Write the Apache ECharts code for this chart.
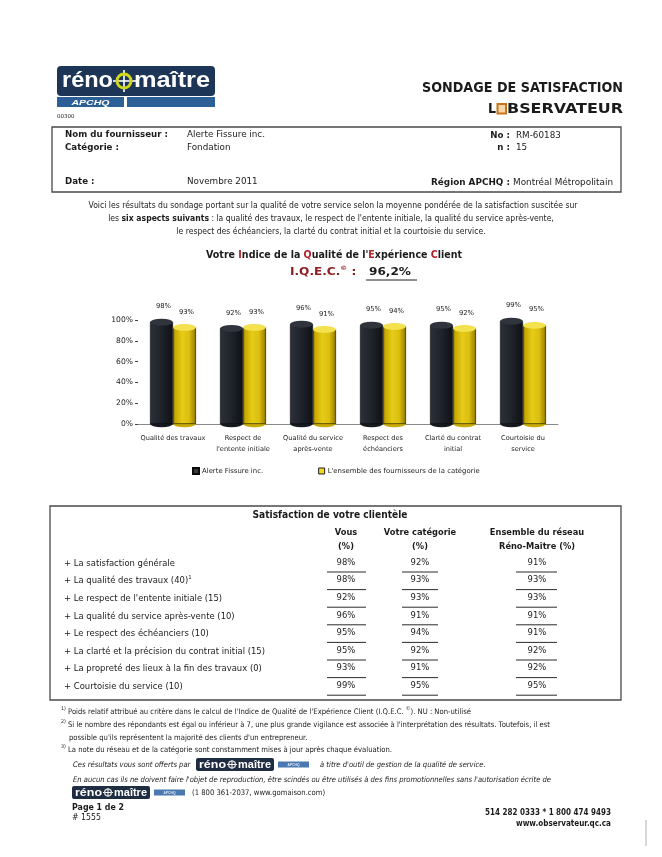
<!DOCTYPE html>
<html>
<head>
<meta charset="utf-8">
<script src="https://cdn.jsdelivr.net/npm/echarts@6.0.0/dist/echarts.min.js"></script>
<style>
html,body{margin:0;padding:0;background:#fff;}
#c{width:662px;height:857px;}
</style>
</head>
<body>
<div id="c"></div>
<script>
// ---------------- DATA ----------------
const categories = ['Qualité des travaux', "Respect de\nl'entente initiale", 'Qualité du service\naprès-vente', 'Respect des\néchéanciers', 'Clarté du contrat\ninitial', 'Courtoisie du\nservice'];
const fournisseur = [98, 92, 96, 95, 95, 99];
const categorie = [93, 93, 91, 94, 92, 95];
const seriesNames = ['Alerte Fissure inc.', "L'ensemble des fournisseurs de la catégorie"];
const yTicks = [0, 20, 40, 60, 80, 100];

const tableRows = ['La satisfaction générale', 'La qualité des travaux (40)', "Le respect de l'entente initiale (15)", 'La qualité du service après-vente (10)', 'Le respect des échéanciers (10)', 'La clarté et la précision du contrat initial (15)', 'La propreté des lieux à la fin des travaux (0)', 'Courtoisie du service (10)'];
const tableVous = [98, 98, 92, 96, 95, 95, 93, 99];
const tableCategorie = [92, 93, 93, 91, 94, 92, 91, 95];
const tableReseau = [91, 93, 93, 91, 91, 92, 92, 95];
const iqec = '96,2%';

// ---------------- HELPERS ----------------
const F = "'DejaVu Sans', sans-serif";
const FA = "'Liberation Sans', Arial, sans-serif";
const INK = '#1b1b1b';
const cv = document.createElement('canvas').getContext('2d');
function st(o) {
  return {fontSize: o.size || 9, fontFamily: o.family || F, fontWeight: o.weight || 'normal',
          fontStyle: o.italic ? 'italic' : 'normal', fill: o.fill || INK};
}
function mw(text, s) {
  cv.font = `${s.fontStyle} ${s.fontWeight} ${s.fontSize}px ${s.fontFamily}`;
  return cv.measureText(text).width;
}
function fit(text, o, w) { return w / mw(text, st(o)); }
function line(x, y, segs, o) {
  o = o || {};
  const base = st(o);
  let cx = 0;
  const children = [];
  segs.forEach(sg => {
    const t = typeof sg === 'string' ? sg : sg[0];
    const ov = typeof sg === 'string' ? {} : (sg[1] || {});
    const s = Object.assign({}, base, ov);
    const w = mw(t, s);
    children.push({type: 'text', x: cx, y: ov.dy || 0, silent: true,
      style: {text: t, fill: s.fill, fontSize: s.fontSize, fontFamily: s.fontFamily,
              fontWeight: s.fontWeight, fontStyle: s.fontStyle, align: 'left', verticalAlign: 'middle'}});
    cx += w;
  });
  const sc = o.w ? o.w / cx : (o.sx || 1);
  const tot = cx * sc;
  const x0 = o.align === 'center' ? x - tot / 2 : o.align === 'right' ? x - tot : x;
  return {type: 'group', x: x0, y: y, scaleX: sc, scaleY: 1, children: children};
}
function rect(x, y, w, h, style, r) {
  return {type: 'rect', silent: true, shape: {x: x, y: y, width: w, height: h, r: r || 0}, style: style};
}
function seg(x1, y1, x2, y2, stroke, lw) {
  return {type: 'line', silent: true, shape: {x1: x1, y1: y1, x2: x2, y2: y2}, style: {stroke: stroke || '#333', lineWidth: lw || 1}};
}
function bigLogo(x, y) {
  return {type: 'group', x: x, y: y, children: [
    rect(0, 0, 158, 30, {fill: '#1d3657'}, 4),
    line(5, 14.5, ['réno'], {size: 22, weight: 'bold', family: FA, fill: '#fff', w: 51}),
    seg(56, 15, 79, 15, '#fff', 1.6),
    seg(67, 4, 67, 26, '#fff', 1.6),
    {type: 'circle', silent: true, shape: {cx: 67, cy: 15, r: 7}, style: {fill: 'none', stroke: '#cfd61c', lineWidth: 3}},
    line(77, 14.5, ['maître'], {size: 22, weight: 'bold', family: FA, fill: '#fff', w: 76}),
    rect(0, 31, 67, 10, {fill: '#2b5f96'}),
    line(33.5, 36.3, ['APCHQ'], {size: 8, weight: 'bold', italic: true, family: FA, fill: '#fff', align: 'center', w: 38}),
    rect(70, 31, 88, 10, {fill: '#2b5f96'})
  ]};
}
function smallLogo(x, y) {
  return {type: 'group', x: x, y: y, children: [
    rect(0, 0, 78, 13, {fill: '#1f2d42'}, 2),
    line(3, 6.5, ['réno'], {size: 11, weight: 'bold', family: FA, fill: '#fff', w: 27}),
    seg(31, 6.5, 41, 6.5, '#fff', 1),
    seg(36, 2, 36, 11, '#fff', 1),
    {type: 'circle', silent: true, shape: {cx: 36, cy: 6.5, r: 3.4}, style: {fill: 'none', stroke: '#d8d8d8', lineWidth: 1.4}},
    line(42, 6.5, ['maître'], {size: 11, weight: 'bold', family: FA, fill: '#fff', w: 33}),
    rect(82, 3.5, 31, 6, {fill: '#4a78b0'}),
    line(97.5, 6.5, ['APCHQ'], {size: 4, weight: 'bold', family: FA, fill: '#dfe8f5', align: 'center', w: 12})
  ]};
}

// ---------------- PAGE TEXT ----------------
const hb = {size: 9, weight: 'bold'};
const hr = {size: 9};
const sxHB = fit('Nom du fournisseur :', hb, 103);
const sxHR = fit('Alerte Fissure inc.', hr, 78);
const red = '#b3232a';
const dred = '#8e1d22';
const ib = {size: 8};
const introSx = fit('Voici les résultats du sondage portant sur la qualité de votre service selon la moyenne pondérée de la satisfaction suscitée sur', ib, 489);
const rowO = {size: 8.6};
const rowSx = fit('+ La clarté et la précision du contrat initial (15)', rowO, 201);
const fnO = {size: 7.6};
const fnSx = fit("Si le nombre des répondants est égal ou inférieur à 7, une plus grande vigilance est associée à l'interprétation des résultats. Toutefois, il est", fnO, 482);
const itO = {size: 7.6, italic: true};
const itSx = fit("En aucun cas ils ne doivent faire l'objet de reproduction, être scindés ou être utilisés à des fins promotionnelles sans l'autorisation écrite de", itO, 478);

const els = [];
els.push(bigLogo(57, 66));
els.push(line(57, 117, ['00300'], {size: 5.5}));
els.push(line(623, 88, ['SONDAGE DE SATISFACTION'], {size: 13.5, weight: 'bold', align: 'right', w: 201}));
els.push(line(488, 109, ['L'], {size: 13.5, weight: 'bold', w: 8}));
els.push(rect(497.5, 104, 8.5, 9.5, {fill: '#f7d7a8', stroke: '#c8741e', lineWidth: 2}));
els.push(line(507, 109, ['BSERVATEUR'], {size: 13.5, weight: 'bold', w: 116}));

// header box
els.push(rect(52, 127, 569, 65, {fill: 'none', stroke: '#4a4a4a', lineWidth: 1.3}));
els.push(line(65, 135, ['Nom du fournisseur :'], Object.assign({sx: sxHB}, hb)));
els.push(line(65, 148, ['Catégorie :'], Object.assign({sx: sxHB}, hb)));
els.push(line(65, 182, ['Date :'], Object.assign({sx: sxHB}, hb)));
els.push(line(187, 135, ['Alerte Fissure inc.'], Object.assign({sx: sxHR}, hr)));
els.push(line(187, 148, ['Fondation'], Object.assign({sx: sxHR}, hr)));
els.push(line(187, 182, ['Novembre 2011'], Object.assign({sx: sxHR}, hr)));
els.push(line(510, 136, ['No :'], Object.assign({sx: sxHB, align: 'right'}, hb)));
els.push(line(516, 136, ['RM-60183'], Object.assign({sx: sxHR}, hr)));
els.push(line(510, 148, ['n :'], Object.assign({sx: sxHB, align: 'right'}, hb)));
els.push(line(516, 148, ['15'], Object.assign({sx: sxHR}, hr)));
els.push(line(431, 183, ['Région APCHQ : ', ['Montréal Métropolitain', {fontWeight: 'normal'}]], Object.assign({w: 182}, hb)));

// intro
els.push(line(333, 206, ['Voici les résultats du sondage portant sur la qualité de votre service selon la moyenne pondérée de la satisfaction suscitée sur'], Object.assign({align: 'center', sx: introSx}, ib)));
els.push(line(331, 219, ['les ', ['six aspects suivants', {fontWeight: 'bold'}], " : la qualité des travaux, le respect de l'entente initiale, la qualité du service après-vente,"], Object.assign({align: 'center', sx: introSx}, ib)));
els.push(line(331, 232, ["le respect des échéanciers, la clarté du contrat initial et la courtoisie du service."], Object.assign({align: 'center', sx: introSx}, ib)));

// title
els.push(line(334, 255, ['Votre ', ['I', {fill: red}], 'ndice de la ', ['Q', {fill: red}], "ualité de l'", ['E', {fill: red}], 'xpérience ', ['C', {fill: red}], 'lient'], {size: 10.5, weight: 'bold', align: 'center', w: 256}));
els.push(line(290, 272, [['I.Q.E.C.', {fill: dred}], ['©', {fill: dred, fontSize: 6, dy: -4}], [' :   ', {fill: dred}], iqec], {size: 10.5, weight: 'bold', w: 121}));
els.push(seg(366, 280, 417, 280, '#222', 1));

// table
els.push(rect(50, 506, 571, 194, {fill: 'none', stroke: '#4a4a4a', lineWidth: 1.3}));
els.push(line(330, 515, ['Satisfaction de votre clientèle'], {size: 10.5, weight: 'bold', align: 'center', w: 155}));
const th = {size: 8.6, weight: 'bold', align: 'center', sx: sxHB};
els.push(line(346, 533, ['Vous'], th));
els.push(line(346, 547, ['(%)'], th));
els.push(line(420, 533, ['Votre catégorie'], th));
els.push(line(420, 547, ['(%)'], th));
els.push(line(537, 533, ['Ensemble du réseau'], th));
els.push(line(537, 547, ['Réno-Maître (%)'], th));
const colX = [346, 420, 537];
const colU = [[327, 366], [402, 438], [516, 557]];
const cols = [tableVous, tableCategorie, tableReseau];
tableRows.forEach((lab, i) => {
  const y = 563.5 + i * 17.6;
  const segs = i === 1 ? ['+ ' + lab, ['1', {fontSize: 5.5, dy: -3.5}]] : ['+ ' + lab];
  els.push(line(64, y, segs, Object.assign({sx: rowSx}, rowO)));
  cols.forEach((c, k) => {
    els.push(line(colX[k], y - 1, [c[i] + '%'], Object.assign({align: 'center', sx: rowSx}, rowO)));
    els.push(seg(colU[k][0], y + 8.5, colU[k][1], y + 8.5, '#2a2a2a', 1));
  });
});

// footnotes
const sup = (t) => [t, {fontSize: 5.2, dy: -3}];
els.push(line(61, 712, [sup('1)'), " Poids relatif attribué au critère dans le calcul de l'Indice de Qualité de l'Expérience Client (I.Q.E.C. ", sup('©'), '). NU : Non-utilisé'], Object.assign({sx: fnSx}, fnO)));
els.push(line(61, 725, [sup('2)'), " Si le nombre des répondants est égal ou inférieur à 7, une plus grande vigilance est associée à l'interprétation des résultats. Toutefois, il est"], Object.assign({sx: fnSx}, fnO)));
els.push(line(69, 738, ["possible qu'ils représentent la majorité des clients d'un entrepreneur."], Object.assign({sx: fnSx}, fnO)));
els.push(line(61, 750, [sup('3)'), ' La note du réseau et de la catégorie sont constamment mises à jour après chaque évaluation.'], Object.assign({sx: fnSx}, fnO)));
els.push(line(73, 765, ['Ces résultats vous sont offerts par'], Object.assign({sx: itSx}, itO)));
els.push(smallLogo(196, 758));
els.push(line(320, 765, ["à titre d'outil de gestion de la qualité de service."], Object.assign({sx: itSx}, itO)));
els.push(line(73, 780, ["En aucun cas ils ne doivent faire l'objet de reproduction, être scindés ou être utilisés à des fins promotionnelles sans l'autorisation écrite de"], Object.assign({sx: itSx}, itO)));
els.push(smallLogo(72, 786));
els.push(line(192, 793, ['(1 800 361-2037, www.gomaison.com)'], Object.assign({sx: fnSx}, fnO)));
els.push(line(72, 808, ['Page 1 de 2'], {size: 8.2, weight: 'bold', sx: sxHB}));
els.push(line(72, 818, ['# 1555'], {size: 8, sx: sxHR}));
els.push(line(611, 813, ['514 282 0333 * 1 800 474 9493'], {size: 8.2, weight: 'bold', align: 'right', w: 126}));
els.push(line(611, 824, ['www.observateur.qc.ca'], {size: 8.2, weight: 'bold', align: 'right', w: 95}));
els.push(seg(646, 820, 646, 846, '#b0b0b0', 1));

// ---------------- CHART ----------------
const barW = 23;
const darkGrad = {type: 'linear', x: 0, y: 0, x2: 1, y2: 0, colorStops: [
  {offset: 0, color: '#2c3039'}, {offset: 0.45, color: '#20242c'}, {offset: 1, color: '#0e1014'}]};
const yelGrad = {type: 'linear', x: 0, y: 0, x2: 1, y2: 0, colorStops: [
  {offset: 0, color: '#7e6c00'}, {offset: 0.1, color: '#c9aa00'}, {offset: 0.4, color: '#e6cb18'},
  {offset: 0.7, color: '#dcbf10'}, {offset: 0.92, color: '#a88c00'}, {offset: 1, color: '#6e5c00'}]};
const lbl = {show: true, position: 'top', distance: 12, offset: [2, 0], formatter: p => p.value + '%',
  fontSize: 6.8, fontFamily: F, color: '#222'};

const option = {
  animation: false,
  backgroundColor: '#ffffff',
  grid: {left: 138, right: 104, top: 320, bottom: 433, containLabel: false},
  legend: {
    left: 187, top: 462, icon: 'rect', itemWidth: 6, itemHeight: 6, itemGap: 55,
    textStyle: {fontSize: 6.9, fontFamily: F, color: '#222', padding: [0, 0, 0, -2]},
    data: [{name: seriesNames[0], itemStyle: {color: '#3a3a3a'}},
           {name: seriesNames[1], itemStyle: {color: '#f0d81a', borderColor: '#222', borderWidth: 1}}]
  },
  xAxis: {
    type: 'category', data: categories,
    axisLine: {lineStyle: {color: '#8a8a8a', width: 1}},
    axisTick: {show: false},
    axisLabel: {fontSize: 6.6, fontFamily: F, color: '#222', lineHeight: 11, margin: 9, interval: 0}
  },
  yAxis: {
    type: 'value', min: 0, max: 100, interval: 20,
    axisLine: {show: false},
    axisTick: {show: true, length: 3, lineStyle: {color: '#444'}},
    splitLine: {show: false},
    axisLabel: {formatter: '{value}%', fontSize: 7.6, fontFamily: F, color: '#222', margin: 5}
  },
  series: [
    {type: 'bar', name: seriesNames[0], data: fournisseur, barWidth: barW, barGap: '0%', z: 2,
     itemStyle: {color: darkGrad, borderColor: '#0a0a0a', borderWidth: 0.6}, label: lbl},
    {type: 'bar', name: seriesNames[1], data: categorie, barWidth: barW, barGap: '0%', z: 2,
     itemStyle: {color: yelGrad, borderColor: '#2a2500', borderWidth: 0.7}, label: lbl},
    {type: 'pictorialBar', name: 'topA', data: fournisseur, symbol: 'circle', symbolSize: [barW, 7],
     symbolPosition: 'end', symbolOffset: [-barW / 2, '-50%'], barWidth: barW, barGap: '-100%', z: 3, silent: true,
     itemStyle: {color: '#30343d', borderColor: '#111', borderWidth: 0.5}},
    {type: 'pictorialBar', name: 'topB', data: categorie, symbol: 'circle', symbolSize: [barW, 7],
     symbolPosition: 'end', symbolOffset: [barW / 2, '-50%'], barWidth: barW, barGap: '-100%', z: 3, silent: true,
     itemStyle: {color: '#f3e14d', borderColor: '#222', borderWidth: 0.7}},
    {type: 'pictorialBar', name: 'botA', data: fournisseur, symbol: 'circle', symbolSize: [barW, 7],
     symbolPosition: 'start', symbolOffset: [-barW / 2, '50%'], barWidth: barW, barGap: '-100%', z: 1, silent: true,
     itemStyle: {color: '#16191f', borderColor: '#0a0a0a', borderWidth: 0.5}},
    {type: 'pictorialBar', name: 'botB', data: categorie, symbol: 'circle', symbolSize: [barW, 7],
     symbolPosition: 'start', symbolOffset: [barW / 2, '50%'], barWidth: barW, barGap: '-100%', z: 1, silent: true,
     itemStyle: {color: '#c9ab00', borderColor: '#222', borderWidth: 0.7}}
  ],
  graphic: {elements: els}
};

const chart = echarts.init(document.getElementById('c'), null, {renderer: 'canvas'});
chart.setOption(option);
</script>
</body>
</html>
